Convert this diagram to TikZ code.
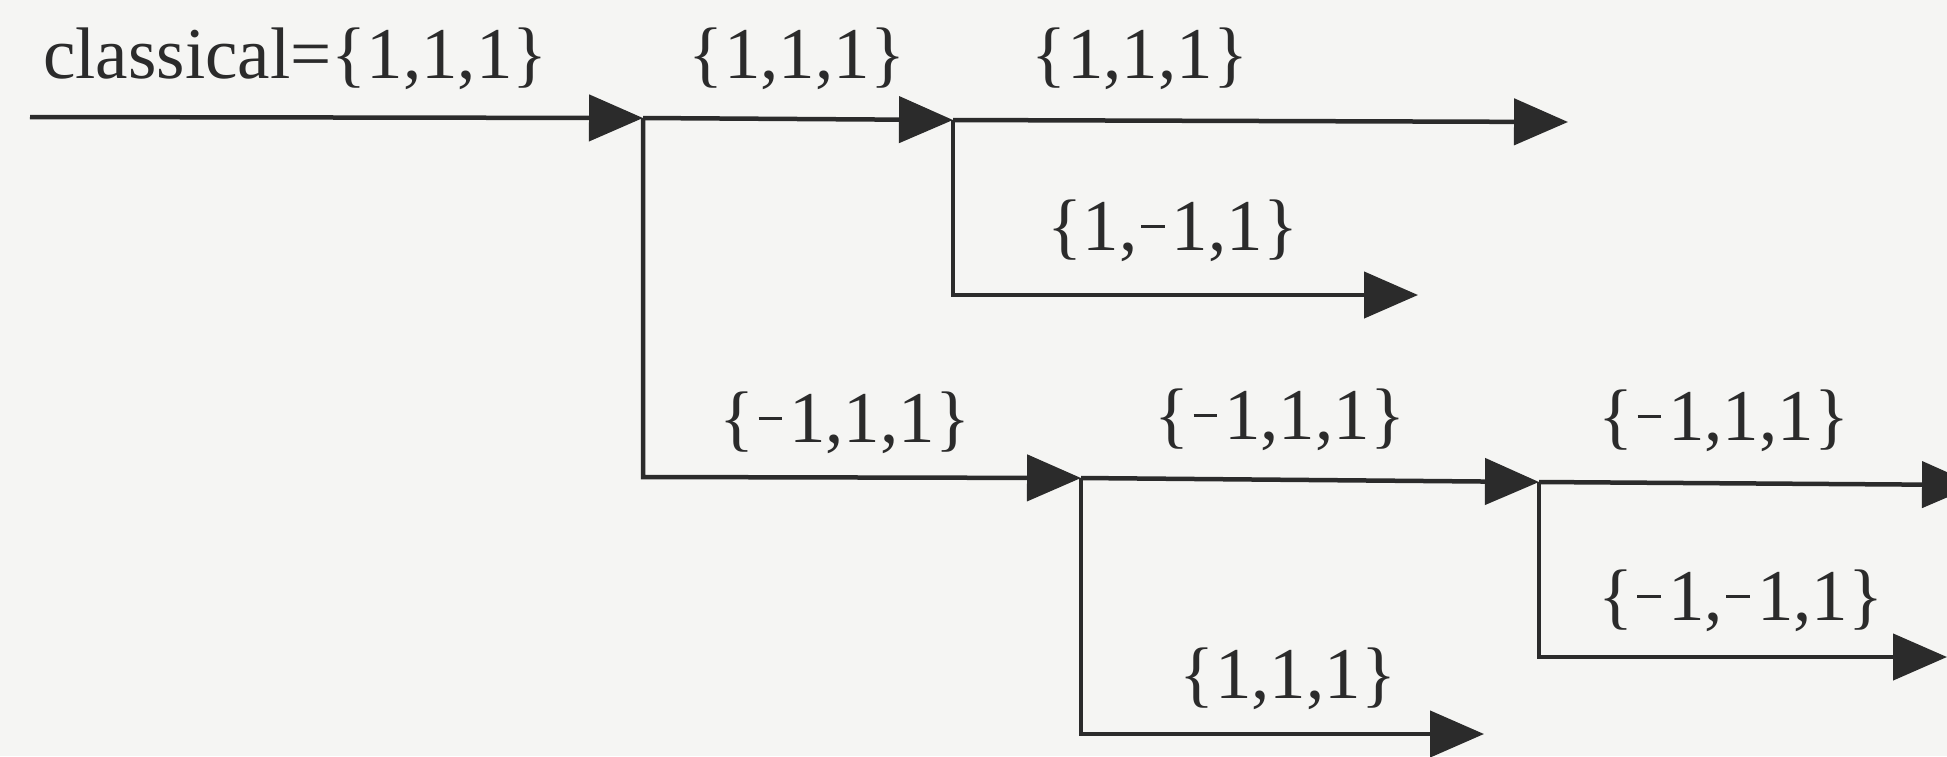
\documentclass[tikz,border=0pt]{standalone}
\usepackage{fontspec}
\setmainfont{Liberation Serif}
\usetikzlibrary{arrows.meta}
\definecolor{paper}{HTML}{F5F5F3}
\definecolor{ink}{HTML}{2B2B2B}
% thin raised minus sign used in the labels
\newcommand\mns{\kern0.05em\rule[0.3em]{0.32em}{0.045em}\kern0.1em}
\tikzset{
  flow/.style={draw=ink, line width=4.5pt, line cap=butt, line join=miter},
  ahead/.style={-{Triangle[length=54pt,width=46pt]}},
  tag/.style={inner sep=0pt, text=ink, font=\fontsize{73}{80}\selectfont},
}
\begin{document}
\begin{tikzpicture}[x=1pt,y=-1pt]
  % page area
  \fill[paper] (0,0) rectangle (1947,756);
  \useasboundingbox (0,0) rectangle (1947,756);
  \clip (0,0) rectangle (1947,756);

  % branching points and free ends
  \coordinate (s)  at (30,117);
  \coordinate (j1) at (643,118);
  \coordinate (j2) at (953,120);
  \coordinate (t1) at (1568,122);
  \coordinate (c2) at (953,295);
  \coordinate (t2) at (1418,295);
  \coordinate (c1) at (643,477);
  \coordinate (j3) at (1081,478);
  \coordinate (j4) at (1539,482);
  \coordinate (t3) at (1976,485);
  \coordinate (c4) at (1539,657);
  \coordinate (t4) at (1947,657);
  \coordinate (c3) at (1081,734);
  \coordinate (t5) at (1484,734);

  % labels
  \node[tag, anchor=base west] (title) at (43,78) {classical=\{1,1,1\}};
  \node[tag, anchor=base] (l1) at (797,78)   {\{1,1,1\}};
  \node[tag, anchor=base] (l2) at (1140,78)  {\{1,1,1\}};
  \node[tag, anchor=base] (l3) at (1173,250) {\{1,\mns1,1\}};
  \node[tag, anchor=base] (l4) at (845,442)  {\{\mns1,1,1\}};
  \node[tag, anchor=base] (l5) at (1280,439) {\{\mns1,1,1\}};
  \node[tag, anchor=base] (l6) at (1724,440) {\{\mns1,1,1\}};
  \node[tag, anchor=base] (l7) at (1741,620) {\{\mns1,\mns1,1\}};
  \node[tag, anchor=base] (l8) at (1288,698) {\{1,1,1\}};

  % arrows
  \draw[flow, ahead] (s) -- (j1);
  \draw[flow, ahead] (j1) -- (j2);
  \draw[flow, ahead] (j2) -- (t1);
  \draw[flow, ahead] (j2) -- (c2) -- (t2);
  \draw[flow, ahead] (j1) -- (c1) -- (j3);
  \draw[flow, ahead] (j3) -- (j4);
  \draw[flow, ahead] (j4) -- (t3);
  \draw[flow, ahead] (j4) -- (c4) -- (t4);
  \draw[flow, ahead] (j3) -- (c3) -- (t5);
\end{tikzpicture}
\end{document}
